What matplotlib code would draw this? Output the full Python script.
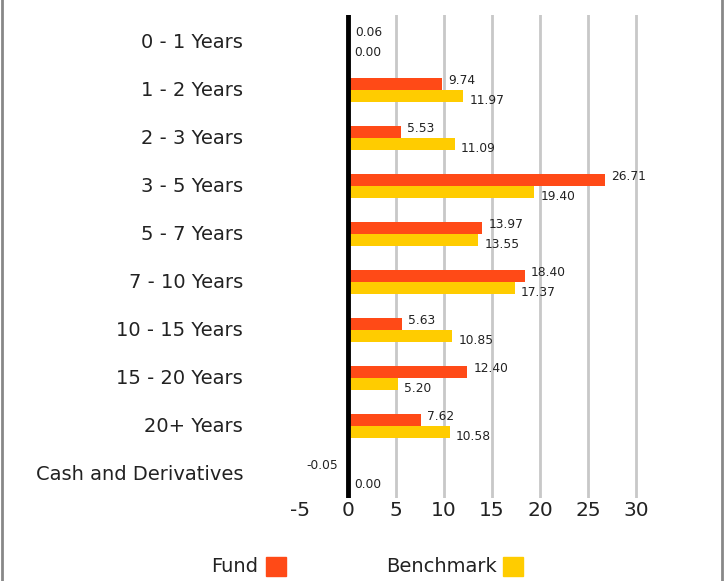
import matplotlib
matplotlib.use("Agg")
import matplotlib.pyplot as plt
from matplotlib.patches import Rectangle
from matplotlib.lines import Line2D

categories = ["0 - 1 Years", "1 - 2 Years", "2 - 3 Years", "3 - 5 Years", "5 - 7 Years",
              "7 - 10 Years", "10 - 15 Years", "15 - 20 Years", "20+ Years", "Cash and Derivatives"]
fund = [0.06, 9.74, 5.53, 26.71, 13.97, 18.40, 5.63, 12.40, 7.62, -0.05]
benchmark = [0.00, 11.97, 11.09, 19.40, 13.55, 17.37, 10.85, 5.20, 10.58, 0.00]
xticks = [-5, 0, 5, 10, 15, 20, 25, 30]
series_names = ["Fund", "Benchmark"]

RED = "#FF4A17"
YEL = "#FFCC00"
plt.rcParams['font.family'] = ['DejaVu Sans']

W, H = 724, 581
fig = plt.figure(figsize=(W/100, H/100), dpi=100)
ax = fig.add_axes([300/W, 1-498/H, (641-300)/W, (498-15)/H])

n = len(categories)
ys = list(range(n))
h = 0.25
ax.barh([y - 0.135 for y in ys], fund, height=h, color=RED, zorder=3)
ax.barh([y + 0.115 for y in ys], benchmark, height=h, color=YEL, zorder=3)

ax.set_xlim(-5, 30.5)
ax.set_ylim(9.5, -0.5625)

for x in xticks:
    if x > 0:
        ax.axvline(x, color="#C8C8C8", lw=2, zorder=1)
ax.axvline(0, color="black", lw=3.5, zorder=4)

for y, f, b in zip(ys, fund, benchmark):
    if f < 0:
        ax.text(-1.0, y - 0.17, f"{f:.2f}", ha="right", va="center", fontsize=8.8, color="#222222")
    else:
        ax.text(max(f, 0) + 0.65, y - 0.19, f"{f:.2f}", ha="left", va="center", fontsize=8.8, color="#222222")
    ax.text(max(b, 0) + 0.65, y + 0.22, f"{b:.2f}", ha="left", va="center", fontsize=8.8, color="#222222")

ax.set_yticks(ys)
ax.set_yticklabels(categories, fontsize=14, color="#222222")
ax.set_xticks(xticks)
ax.set_xticklabels([str(t) for t in xticks], fontsize=14.5, color="#222222")
ax.tick_params(axis="y", length=0, pad=41)
ax.tick_params(axis="x", length=0, pad=2)
for lab in ax.get_yticklabels():
    lab.set_horizontalalignment("right")
    lab.set_verticalalignment("center")
for s in ax.spines.values():
    s.set_visible(False)

# legend
fig.text(258/W, 1-567/H, series_names[0], ha="right", va="center", fontsize=14, color="#222222")
fig.patches.append(Rectangle((266/W, 1-576/H), 20/W, 19/H, transform=fig.transFigure, color=RED))
fig.text(497/W, 1-567/H, series_names[1], ha="right", va="center", fontsize=14, color="#222222")
fig.patches.append(Rectangle((503/W, 1-576/H), 20/W, 19/H, transform=fig.transFigure, color=YEL))

# border
fig.lines.append(Line2D([1.5/W, 1.5/W], [0, 1], transform=fig.transFigure, color="#888888", lw=2))
fig.lines.append(Line2D([722/W, 722/W], [0, 1], transform=fig.transFigure, color="#888888", lw=2))

fig.savefig("out.png", dpi=100)
